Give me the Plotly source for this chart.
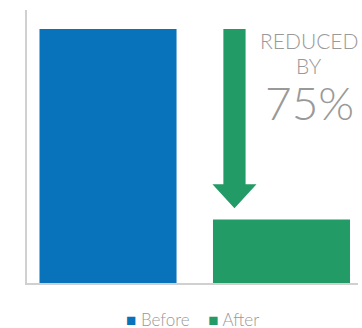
import plotly.graph_objects as go

# ---- data ----
categories = ["Before", "After"]
values = [100, 25]
colors = ["#0872BA", "#229B66"]
label_lines = ["REDUCED", "BY", "75%"]

# ---- derived ----
before, after = values
x_arrow = 0.729          # arrow centre (category-axis units)
shaft_hw = 0.064
head_hw = 0.127
head_top = after + 13.9
tip = after + 4.4

fig = go.Figure()
for i, (cat, val, col) in enumerate(zip(categories, values, colors)):
    fig.add_trace(go.Bar(
        x=[i], y=[val], name=cat, marker=dict(color=col, line=dict(width=0)),
        width=0.79, showlegend=False,
    ))

path = (f"M {x_arrow - shaft_hw} {before} L {x_arrow + shaft_hw} {before} "
        f"L {x_arrow + shaft_hw} {head_top} L {x_arrow + head_hw} {head_top} "
        f"L {x_arrow} {tip} L {x_arrow - head_hw} {head_top} "
        f"L {x_arrow - shaft_hw} {head_top} Z")
fig.add_shape(type="path", path=path, xref="x", yref="y",
              fillcolor=colors[1], line=dict(width=0), layer="above")

text_font = "Lato, Open Sans, sans-serif"
for txt, y, size in zip(label_lines, [0.89, 0.795, 0.66], [21, 21, 46]):
    fig.add_annotation(text=txt, x=0.852, y=y, xref="paper", yref="paper",
                       xanchor="center", yanchor="middle", showarrow=False,
                       font=dict(family=text_font, size=size, color="#999999",
                                 weight=300))

# compact legend built from the category names / colours
legend_text = "&nbsp;&nbsp;&nbsp;&nbsp;".join(
    f"<span style='color:{c};font-size:17px'>■</span>&nbsp;{n}"
    for n, c in zip(categories, colors))
fig.add_annotation(text=legend_text, x=0.5, y=-0.134, xref="paper", yref="paper",
                   xanchor="center", yanchor="middle", showarrow=False,
                   font=dict(family=text_font, size=17, color="#999999", weight=300))

fig.update_layout(
    width=362, height=328,
    margin=dict(l=27, r=4, t=10, b=45, autoexpand=False),
    paper_bgcolor="white", plot_bgcolor="white",
    barmode="overlay",
    xaxis=dict(range=[-0.467, 1.441], showticklabels=False, showgrid=False,
               zeroline=False, showline=True, linecolor="#d0d0d0", linewidth=2,
               ticks=""),
    yaxis=dict(range=[0, 107.5], showticklabels=False, showgrid=False,
               zeroline=False, showline=True, linecolor="#d0d0d0", linewidth=2,
               ticks=""),
    showlegend=False,
)

fig.write_html("out.html")
